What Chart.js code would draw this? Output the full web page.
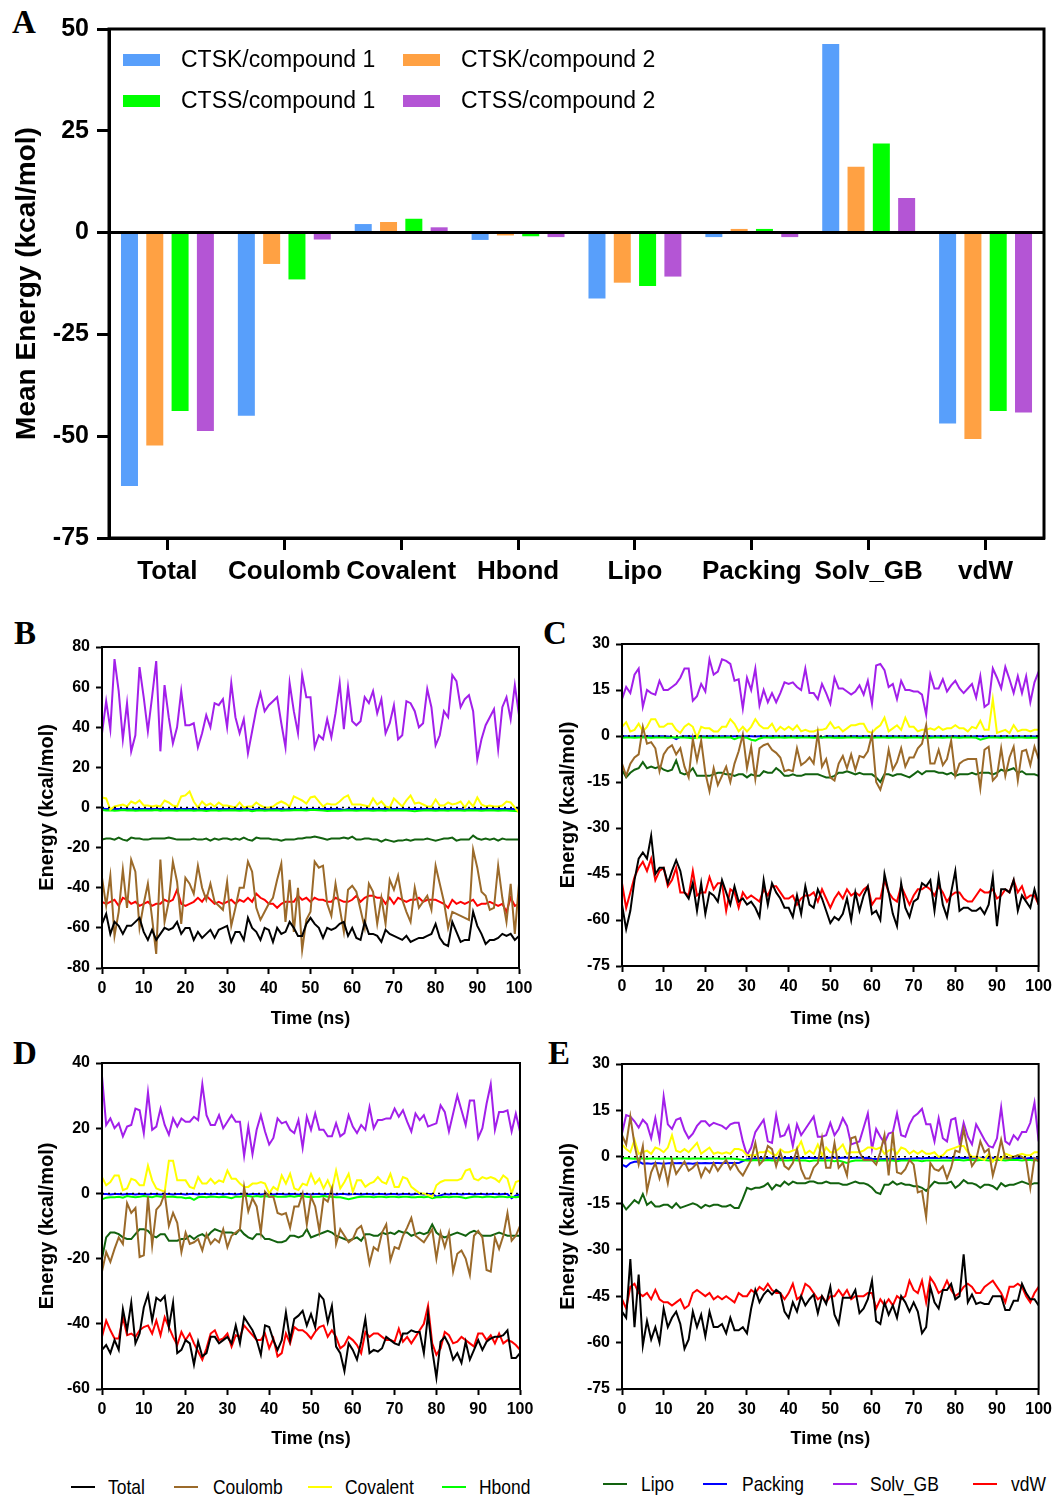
<!DOCTYPE html>
<html>
<head>
<meta charset="utf-8">
<script src="https://cdn.jsdelivr.net/npm/chart.js@4.4.1/dist/chart.umd.min.js"></script>
<style>
  body { margin: 0; background: #fff; }
  #page { position: relative; width: 1057px; height: 1497px; background: #fff; }
  #page canvas { position: absolute; }
  .panel-letter {
    position: absolute;
    font-family: 'Liberation Serif', 'Times New Roman', serif;
    font-weight: bold;
    font-size: 33px;
    line-height: 1;
    color: #000;
  }
  .key {
    position: absolute;
    font-family: 'Liberation Sans', Arial, sans-serif;
    font-size: 21px;
    line-height: 24px;
    color: #000;
    white-space: nowrap;
    transform: scaleX(0.83);
    transform-origin: left center;
  }
  .key-line { position: absolute; height: 2px; width: 24px; }
</style>
</head>
<body>
<div id="page">
  <div class="panel-letter" style="left:12px; top:6px">A</div>
  <div class="panel-letter" style="left:14px; top:617px">B</div>
  <div class="panel-letter" style="left:543px; top:617px">C</div>
  <div class="panel-letter" style="left:13px; top:1037px">D</div>
  <div class="panel-letter" style="left:548px; top:1037px">E</div>

  <canvas id="chartA" width="1057" height="600" style="left:0; top:0"></canvas>
  <canvas id="chartB" width="540" height="440" style="left:0; top:600px"></canvas>
  <canvas id="chartC" width="517" height="440" style="left:540px; top:600px"></canvas>
  <canvas id="chartD" width="540" height="430" style="left:0; top:1030px"></canvas>
  <canvas id="chartE" width="517" height="430" style="left:540px; top:1030px"></canvas>

  <div id="keys"></div>
</div>

<script>
// ---- Panel A: mean energy terms ----
const categories = ['Total', 'Coulomb', 'Covalent', 'Hbond', 'Lipo', 'Packing', 'Solv_GB', 'vdW'];
const ctskCompound1 = [-62.2, -45.0, 2.1, -1.8, -16.2, -1.1, 46.3, -46.9];
const ctskCompound2 = [-52.3, -7.7, 2.6, -0.7, -12.3, 0.9, 16.2, -50.7];
const ctssCompound1 = [-43.8, -11.5, 3.4, -0.9, -13.1, 0.9, 21.9, -43.8];
const ctssCompound2 = [-48.7, -1.7, 1.3, -1.1, -10.8, -1.1, 8.5, -44.2];

// ---- Panels B-E: energy terms over the trajectory ----
const seriesNames = ['Total', 'Coulomb', 'Covalent', 'Hbond', 'Lipo', 'Packing', 'Solv_GB', 'vdW'];
const timeNs = Array.from({ length: 101 }, (_, i) => i);

// B
const bTotal = [
  -58,-53,-63,-57,-59,-63,-59,-59,-57,-55,
  -62,-66,-61,-66,-63,-60,-61,-60,-57,-63,
  -60,-60,-66,-62,-65,-63,-61,-65,-61,-60,
  -59,-67,-62,-62,-66,-55,-60,-62,-66,-60,
  -61,-67,-60,-63,-62,-57,-60,-64,-64,-58,
  -55,-58,-60,-65,-60,-61,-60,-58,-57,-64,
  -60,-65,-66,-57,-63,-63,-64,-67,-61,-63,
  -64,-65,-66,-64,-67,-66,-65,-65,-64,-63,
  -58,-65,-68,-69,-57,-62,-67,-66,-66,-52,
  -59,-63,-68,-66,-66,-65,-63,-64,-63,-66,
  -64];
const bCoulomb = [
  -35,-49,-34,-64,-52,-31,-50,-26,-32,-60,
  -48,-38,-55,-73,-26,-57,-47,-27,-37,-58,
  -35,-38,-43,-29,-40,-46,-38,-47,-49,-51,
  -37,-59,-50,-40,-40,-27,-32,-50,-56,-52,
  -48,-45,-36,-28,-57,-36,-62,-40,-71,-56,
  -52,-27,-30,-29,-48,-54,-38,-50,-62,-41,
  -39,-42,-51,-60,-38,-42,-58,-45,-58,-36,
  -41,-34,-46,-52,-57,-40,-50,-47,-44,-51,
  -29,-38,-47,-60,-52,-53,-54,-55,-56,-21,
  -30,-42,-44,-51,-50,-29,-45,-57,-38,-63,
  -38];
const bCovalent = [
  5,4.5,-1,0.5,1,1.5,0.5,3,2,3.5,
  1,1,0.5,1,0.5,3.5,2.5,1,0.5,5.5,
  6,8,3,0,3,1,2,0.5,2.5,1,
  1,0.5,0,2.5,0,0.5,0.5,2.5,1,0,
  0,0.5,2,3,2,0.5,5.5,4.5,3.5,2,
  5,5.5,3,0.5,2,1.5,1.5,3,5,6,
  1.5,1.5,1.5,1,0.5,4.5,1.5,3,0.5,0,
  4.5,2.5,0.5,3.5,6,2,2.5,1.5,0.5,0.5,
  4,1,1,2.5,1.5,2,3,0,3,0.5,
  5,1.5,0.5,1,0.5,0.5,1,3,2.5,0,
  -2.5];
const bHbond = [
  -1.2,-1.5,-1.4,-1.6,-1.5,-1.3,-1.5,-1.4,-1.6,-1.5,
  -1.4,-1.5,-1.5,-1.3,-1.6,-1.4,-1.5,-1.5,-1.6,-1.4,
  -1.5,-1.4,-1.6,-1.5,-1.5,-1.8,-1.5,-1.4,-1.6,-1.5,
  -1.5,-1.4,-1.5,-1.6,-1.5,-1.4,-1.9,-1.5,-1.4,-1.6,
  -1.5,-1.5,-1.4,-1.6,-1.5,-1.5,-1.4,-1.3,-1.4,-1.5,
  -1.3,-1.2,-1.4,-1.5,-1.7,-1.6,-1.5,-1.6,-1.5,-1.4,
  -1.5,-1.6,-1.5,-1.4,-1.5,-1.6,-1.5,-1.5,-1.6,-1.4,
  -1.5,-1.4,-1.5,-1.5,-1.6,-1.9,-1.6,-1.5,-1.4,-1.5,
  -1.6,-1.5,-1.5,-1.6,-1.4,-1.5,-1.5,-1.6,-1.4,-1.5,
  -1.5,-1.6,-1.5,-1.4,-1.5,-1.6,-1.5,-1.5,-1.6,-1.8,
  -1.9];
const bLipo = [
  -16,-15.5,-15.5,-16,-15,-16,-16.5,-15,-15.5,-15.5,
  -16,-16,-15.5,-15.5,-15.5,-15.5,-15,-15.5,-16,-16,
  -16,-16,-15.5,-16,-16,-15.5,-16.5,-15.5,-16,-15.5,
  -15.5,-16,-15.5,-16,-15,-16,-16.5,-15,-15.5,-15.5,
  -15.5,-16,-16,-16.5,-16,-16,-16,-15.5,-15.5,-15,
  -15,-14.5,-15,-15.5,-16,-15.5,-15.5,-15.5,-15,-15.5,
  -14.5,-16,-16,-15.5,-15.5,-16,-16,-17,-16,-16.5,
  -17,-16.5,-16.5,-16,-16.5,-16,-16,-16,-15.5,-16,
  -16.5,-16,-15.5,-15.5,-15,-16.5,-16,-16,-16,-14,
  -15.5,-16,-15.5,-16,-15.5,-16.5,-15.5,-16,-16,-16,
  -16];
const bPacking = [
  -0.6,-0.8,-0.7,-0.8,-0.7,-0.8,-0.7,-0.9,-0.8,-0.7,
  -0.8,-0.7,-0.8,-0.7,-0.8,-0.7,-0.8,-0.7,-0.8,-0.8,
  -0.7,-0.8,-0.7,-0.8,-0.8,-0.7,-0.8,-0.7,-0.8,-0.7,
  -0.8,-0.7,-0.8,-0.8,-0.7,-0.8,-1.2,-0.8,-0.7,-0.8,
  -0.7,-0.8,-0.8,-0.7,-1.0,-0.8,-0.7,-0.8,-0.7,-0.8,
  -0.8,-0.7,-0.8,-0.7,-0.8,-0.8,-0.7,-0.8,-1.2,-0.8,
  -0.7,-0.8,-0.7,-0.8,-0.8,-0.7,-0.8,-0.7,-0.8,-0.7,
  -0.8,-0.8,-0.7,-0.8,-0.7,-0.8,-0.7,-0.8,-0.8,-0.7,
  -0.8,-0.7,-0.8,-0.7,-0.8,-0.8,-0.7,-1.0,-0.8,-0.7,
  -0.8,-0.7,-0.8,-0.8,-0.7,-0.8,-0.7,-0.8,-0.8,-0.7,
  -0.8];
const bSolvGB = [
  37,53,39,74,58,34,52,28,36,70,
  55,38,55,73,28,61,45,32,40,58,
  41,41,42,30,37,46,40,52,51,54,
  40,62,45,37,44,27,38,49,57,48,
  51,53,55,42,30,62,48,37,66,55,
  55,30,36,34,44,35,47,62,39,60,
  43,41,43,55,52,58,47,54,37,42,
  51,34,36,53,52,48,40,42,59,50,
  31,36,48,45,66,63,50,54,56,48,
  24,34,41,45,49,29,50,55,44,61,
  46];
const bVdw = [
  -47,-48,-47,-46,-49,-45,-46,-48,-47,-49,
  -48,-47,-49,-48,-48,-46,-47,-46,-41,-48,
  -49,-48,-47,-45,-47,-44,-46,-48,-47,-48,
  -47,-46,-48,-46,-47,-45,-47,-43,-45,-46,
  -48,-48,-50,-48,-47,-47,-47,-44,-46,-45,
  -47,-45,-46,-46,-47,-47,-45,-46,-47,-47,
  -46,-44,-47,-45,-44,-44,-45,-45,-48,-45,
  -48,-45,-46,-47,-46,-46,-45,-47,-46,-46,
  -46,-47,-48,-50,-46,-48,-47,-48,-47,-46,
  -49,-48,-48,-47,-48,-49,-48,-52,-45,-49,
  -48];

// C
const cTotal = [
  -55,-63,-57,-47,-40,-38,-40,-32.5,-45,-43,
  -43,-48,-44,-40.5,-44,-51,-53,-48,-57,-48,
  -58,-51,-52,-54,-47,-51,-55,-49,-54,-53,
  -55,-54,-56,-59,-47,-55,-48,-51,-53,-56,
  -56,-59,-52,-58,-49,-55,-56,-50,-53,-57,
  -61,-59,-60,-58,-53,-60,-51,-57,-52,-49,
  -58,-57,-60,-45,-51,-58,-62,-48,-56,-59,
  -54,-53,-48,-49,-47,-57,-46,-55,-59,-51,
  -44,-57,-56,-56,-57,-57,-56,-58,-55,-46,
  -62,-50,-50,-51,-47,-57,-52,-54,-56,-50,
  -55];
const cCoulomb = [
  -9,-13,-9,-7,-6,3,-2.5,-2,-4,-11.5,
  -6,-4,-3,-6,-4,-10,-13.5,-1,-8,-1.5,
  -12,-18,-10.5,-16,-13,-10,-15,-9,-5,0.5,
  -10.5,-3.5,-14,-4,-3,-2.5,-4.5,-5.5,-7,-11.5,
  -11,-11.5,-4,-9.5,-8.5,-7,-9,1,-10,-7.5,
  -13.5,-14.5,-9,-6.5,-10.5,-6,-11,-6.5,-7,-5,
  0.5,-15,-17.5,-13,-4.5,-11,-8.5,-4,-10,-7,
  -7,-4,-2.5,3.5,-9,-9,-4.5,-9.5,-7.5,-1.5,
  -13,-9,-8,-7.5,-7.5,-7.5,-17,-4.5,-3.5,-14.5,
  -13,-4,-13,-7,-3.5,-14.5,-5,-4.5,-9.5,-3.5,
  -7.5];
const cCovalent = [
  3,4.5,1.5,2,4,1.5,3,5.5,5.5,3,
  3,4,4,2,1,3,4,3,-0.5,3,
  2.5,2.5,1.5,1.5,3,3,5.5,4,1.5,3,
  1.5,3,5.5,3.5,2.5,2.5,4,1.5,3,2,
  3,2,3.5,1.5,2,1.5,1.5,2,2,2.5,
  4.5,2.5,3,1.5,2.5,3.5,3.5,4,4,1.5,
  1,2.5,3.5,6,1.5,2.5,3.5,2,6,3,
  3,1.5,2,2,2.5,2,3,2,2.5,2.5,
  3.5,2.5,2.5,1.5,3,2.5,5,2,2,12,
  1,1.5,2,1,3.5,1.5,2,2,1.5,2,
  2];
const cHbond = [
  -0.6,-0.5,-0.5,-0.6,-0.5,-0.4,-0.5,-0.6,-0.5,-0.5,
  -0.5,-0.6,-0.5,-0.4,-0.5,-0.5,-0.6,-0.8,-0.5,-0.5,
  -0.5,-0.6,-0.5,-0.5,-0.5,-0.5,-0.4,-1.0,-0.5,-0.5,
  -0.6,-1.2,-1.5,-0.8,-0.5,-0.5,-0.6,-0.5,-0.5,-0.6,
  -0.5,-0.5,-0.6,-0.5,-0.5,-0.5,-0.6,-0.5,-0.5,-0.5,
  -0.5,-0.6,-0.5,-0.6,-0.5,-0.5,-0.5,-0.6,-0.5,-0.5,
  -0.6,-0.5,-0.5,-0.5,-0.6,-0.5,-0.5,-0.5,-0.6,-0.5,
  -0.5,-0.5,-0.6,-0.5,-0.6,-0.5,-0.5,-0.6,-0.5,-0.5,
  -0.5,-0.6,-0.5,-0.5,-0.5,-0.6,-1.2,-0.8,-0.5,-0.5,
  -0.5,-0.6,-0.5,-0.5,-0.6,-0.5,-0.5,-0.6,-0.5,-0.6,
  -0.5];
const cLipo = [
  -11,-13.5,-12,-11,-10.5,-8.5,-10.5,-10,-10.5,-10,
  -11,-11.5,-11,-8,-12,-12.5,-12,-10.5,-13,-13,
  -13,-13,-12.5,-12,-12,-12.5,-12.5,-13,-12.5,-12.5,
  -13.5,-12.5,-13,-13,-11.5,-12,-12,-10.5,-11.5,-13,
  -13,-12.5,-13,-13,-12.5,-12.5,-12.5,-12.5,-13,-13.5,
  -13.5,-13,-12,-12,-11.5,-12,-12.5,-12,-12.5,-12.5,
  -12.5,-13.5,-15,-12.5,-12.5,-13,-12.5,-12.5,-13,-13.5,
  -12.5,-11.5,-12.5,-11.5,-11.5,-11.5,-12,-12,-12.5,-12,
  -13,-12.5,-12.5,-12.5,-12,-12.5,-12,-12,-12,-12.5,
  -12,-11,-11.5,-11,-10.5,-12,-11.5,-12.5,-12.5,-12.5,
  -13];
const cPacking = [
  -0.1,-0.1,-0.2,-0.1,-0.1,-0.2,-0.1,-0.1,-0.2,-0.1,
  -0.1,-0.2,-0.3,-1.0,-0.2,-0.1,-0.1,-0.2,-0.1,-0.1,
  -0.2,-0.1,-0.1,-0.2,-0.1,-0.1,-0.2,-0.1,-0.1,-0.2,
  -0.1,-0.1,-0.2,-0.1,-0.1,-0.2,-0.1,-0.1,-0.2,-0.1,
  -0.1,-0.2,-0.1,-0.1,-0.2,-0.1,-0.1,-0.2,-0.5,-0.1,
  -0.1,-0.2,-0.1,-0.1,-0.2,-0.1,-0.1,-0.2,-0.1,-0.1,
  -0.2,-0.1,-0.1,-0.2,-0.1,-0.1,-0.2,-0.1,-0.1,-0.2,
  -0.1,-0.1,-0.2,-0.1,-0.1,-0.2,-0.1,-0.1,-0.2,-0.1,
  -0.1,-0.2,-0.1,-0.1,-0.2,-0.1,-0.1,-0.2,-0.1,-0.1,
  -0.2,-0.1,-0.1,-0.2,-0.1,-0.1,-0.2,-0.1,-0.1,-0.2,
  -0.1];
const cSolvGB = [
  12,16,14,20,22,9.5,15,14,13.5,18,
  15,15,16,17,19,22,22,11.5,13,17,
  14.5,25,20,21,25,24.5,23.5,18,18.5,9,
  19,15,22,10,15,11,14,11,14,17.5,
  17,17.5,16,15,22,14,14,12,17,14,
  10.5,19,15.5,15.5,14.5,13.5,14.5,16.5,13.5,18,
  10.5,23,23.5,21.5,16,17,12,18,15,15,
  14.5,14.5,13.5,7,20,15.5,15.5,18.5,14.5,16.5,
  18,15.5,14,15.5,17,12.5,19.5,9.5,10.5,22,
  19,15.5,22.5,18.5,14,19.5,14,19.5,11,17.5,
  21];
const cVdw = [
  -48,-56,-51,-46,-43,-41,-44,-40,-47,-44,
  -43,-49,-47,-43,-51,-51,-52,-44,-52,-51,
  -51,-46,-50,-48,-48,-57,-50,-51,-56,-51,
  -53,-52,-53,-54,-50,-52,-49,-49,-51,-53,
  -53,-52,-55,-53,-52,-52,-51,-54,-50,-53,
  -56,-53,-51,-53,-50,-52,-51,-52,-50,-49,
  -55,-53,-53,-47,-51,-53,-54,-49,-52,-55,
  -52,-50,-50,-49,-50,-52,-49,-51,-54,-52,
  -51,-51,-53,-54,-54,-52,-50,-51,-51,-50,
  -53,-52,-50,-51,-47,-51,-49,-53,-52,-52,
  -55];

// D
const dTotal = [
  -48,-46.5,-49,-45,-48,-35.5,-42,-33.5,-46,-43,
  -35,-31,-39,-32,-33,-31.5,-41,-33.5,-49,-48,
  -45,-46,-52.5,-45.5,-50,-49,-44,-44,-46,-45,
  -44,-46,-40.5,-46,-38,-40,-42,-45,-49.5,-40.5,
  -41,-45,-48,-45,-36.5,-45,-38.5,-37.5,-36,-40.5,
  -37,-41,-31,-32.5,-39.5,-34.5,-47,-49,-54.5,-46,
  -48,-51,-45.5,-38.5,-49,-48,-48.5,-47.5,-44,-45,
  -46,-46.5,-43,-43,-42,-42.5,-42.5,-49,-37,-48,
  -56.5,-45.5,-44,-46.5,-51,-49,-52,-45.5,-51,-48,
  -45,-48,-45.5,-44.5,-44,-44,-43.5,-42,-50.5,-50.5,
  -49];
const dCoulomb = [
  -24,-18,-21,-17,-13.5,-15.5,-3,-6,-4.5,-19.5,
  -19,-1,-16,-5,-3.5,0,-10,-6,-9,-18,
  -12,-15.5,-15,-14,-17.5,-12.5,-15.5,-14,-15,-11,
  -16.5,-13,-12,-11,2,-5.5,-1.5,-4,-12,0.5,
  -1,-1,-6,-6.5,-6,-10.5,-4,-4,0,-9.5,
  -1,-4,-11.5,-1.5,-2.5,1.5,-15.5,-11,-13,-15,
  -14,-11,-10,-14,-21.5,-16.5,-17.5,-12,-9.5,-20.5,
  -16.5,-17,-13,-10.5,-7.5,-13,-14,-15,-13,-11,
  -20,-12,-16.5,-12,-24,-18.5,-17.5,-20,-25,-13,
  -11.5,-13.5,-23.5,-24,-13.5,-17,-13,-6,-14.5,-13,
  -10];
const dCovalent = [
  5,2.5,3.5,5.5,5.5,1,1.5,4.5,4,2.5,
  2.5,8.5,4,1.5,1,0.5,10,10,4,4,
  4,2,1.5,5,3,3,4.5,3,4,3.5,
  7,4.5,4.5,3,2,2,3,3,3.5,3,
  0,2,1,5.5,3,6,1.5,1,3,2.5,
  6,3,4.5,1.5,4,1,7,1.5,3.5,6,
  0.5,4,4,2,3,3.5,5,3.5,3,6,
  2,2,5,4.5,2,1,0,0,-0.5,-1,
  2.5,3.5,4,4,4,4,4.5,7,7.5,4.5,
  4,5,4.5,5,4.5,3.5,5.5,4.5,0,3.5,
  4];
const dHbond = [
  -1.8,-1.3,-1.2,-1.2,-1.0,-1.3,-0.8,-1.0,-1.2,-1.0,
  -0.8,-1.0,-1.2,-0.8,-1.0,-1.0,-1.0,-1.0,-1.2,-1.2,
  -1.5,-1.3,-2.0,-1.2,-1.0,-1.2,-1.0,-1.0,-1.2,-1.0,
  -1.2,-1.5,-1.0,-1.0,-0.8,-0.8,-1.0,-0.8,-1.0,-0.8,
  -1.0,-0.8,-1.0,-1.0,-1.0,-0.8,-1.0,-0.8,-0.8,-1.0,
  -1.2,-1.0,-1.0,-0.8,-1.0,-1.0,-1.2,-1.2,-1.5,-1.8,
  -1.5,-1.2,-1.0,-1.0,-1.0,-1.2,-1.0,-1.0,-1.2,-1.0,
  -1.0,-1.2,-1.0,-1.0,-1.2,-1.2,-1.0,-1.2,-1.0,-1.5,
  -1.2,-1.2,-1.0,-1.2,-1.0,-1.0,-1.2,-1.5,-1.2,-1.0,
  -1.0,-1.2,-1.0,-1.0,-1.2,-1.0,-1.0,-1.2,-1.0,-1.2,
  -1.0];
const dLipo = [
  -20,-13.5,-12,-12,-12.5,-13.5,-14,-14,-12.5,-11,
  -11,-11.5,-13,-13.5,-12.5,-12.5,-14.5,-14.5,-14.5,-14,
  -14,-13,-14,-13,-12.5,-13.5,-12,-11,-11.5,-12,
  -12,-12,-12.5,-11,-12.5,-13.5,-14,-12.5,-12.5,-14,
  -14,-14.5,-15,-15,-14.5,-13,-13,-13.5,-13,-11,
  -13.5,-13,-12.5,-12,-11.5,-12,-13,-13.5,-14,-14.5,
  -14,-13.5,-14.5,-12.5,-12.5,-13,-13,-12,-12.5,-12,
  -12.5,-11.5,-12,-12,-13,-12.5,-12,-12.5,-12,-9.5,
  -12,-13,-13.5,-13,-12.5,-12,-12.5,-13,-12,-11.5,
  -12,-13,-13,-13,-12.5,-12,-12.5,-13,-13,-13,
  -13];
const dPacking = [
  -0.2,-0.2,-0.3,-0.2,-0.2,-0.3,-0.2,-0.2,-0.3,-0.2,
  -0.2,-0.3,-0.2,-0.2,-0.3,-0.2,-0.2,-0.3,-0.2,-0.2,
  -0.3,-0.2,-0.2,-0.3,-0.2,-0.2,-0.3,-0.2,-0.2,-0.3,
  -0.2,-0.2,-0.3,-0.2,-0.2,-0.3,-0.2,-0.2,-0.3,-0.2,
  -0.2,-0.3,-0.2,-0.2,-0.3,-0.2,-0.2,-0.3,-0.2,-0.2,
  -0.3,-0.2,-0.2,-0.3,-0.2,-0.2,-0.3,-0.2,-0.2,-0.3,
  -0.2,-0.2,-0.3,-0.2,-0.2,-0.3,-0.2,-0.2,-0.3,-0.2,
  -0.2,-0.3,-0.2,-0.2,-0.3,-0.2,-0.2,-0.3,-0.2,-0.2,
  -1.0,-0.6,-0.2,-0.3,-0.2,-0.2,-0.3,-0.2,-0.2,-0.3,
  -0.2,-0.2,-0.3,-0.2,-0.2,-0.3,-0.2,-0.2,-1.5,-0.6,
  -0.3];
const dSolvGB = [
  36,21,23,20,21.5,17.5,20.5,21,26,25.5,
  18.5,31,19.5,20.5,26,21,18,23,20.5,23,
  22,22,23.5,22.5,33.5,24,21,21,24,20,
  22,24,22,22,11.5,20.5,12,19.5,24,19,
  15,17,23,21.5,22,19.5,18.5,22.5,14,23.5,
  19.5,24.5,19.5,19.5,17.5,17.5,21.5,17.5,18.5,24,
  20.5,18.5,21,19.5,26.5,20,22.5,22.5,23,23,
  26,23.5,25.5,22,19,24.5,22.5,24,20.5,21,
  21.5,27,25,19,24.5,30,25.5,21,28.5,28.5,
  17,20,27.5,33.5,19.5,25,25,25.5,19,24.5,
  19];
const dVdw = [
  -44,-39,-42,-44.5,-44.5,-38,-43.5,-43,-44,-42,
  -41,-40.5,-43,-39,-43.5,-38,-41,-44,-46.5,-42.5,
  -45,-43,-46,-48.5,-51,-47.5,-43,-42,-45,-44.5,
  -43,-47,-43.5,-44,-40.5,-42,-43.5,-45,-45,-43,
  -47.5,-44.5,-50,-49,-43,-46,-41,-42,-42,-43,
  -44.5,-42.5,-41,-40.5,-44,-42,-44,-47.5,-46.5,-44,
  -45,-46.5,-49,-42.5,-44,-43,-43,-44,-45,-45,
  -45.5,-41.5,-45.5,-44,-46,-44,-42,-40,-34.5,-46,
  -49.5,-47.5,-42.5,-43.5,-46,-45.5,-44,-45,-46,-47,
  -43,-43,-45,-43.5,-46,-43,-46,-45,-45.5,-46.5,
  -48];

// E
const eTotal = [
  -50,-52,-33,-55,-38,-61,-53,-59,-55,-60,
  -49,-55,-52,-50,-54,-62,-59,-50,-55,-51,
  -58,-50,-55,-55,-54,-57,-52,-56,-56,-55,
  -57,-49,-43,-47,-44.5,-43,-44.5,-43,-44,-50,
  -52,-47,-50,-45,-48,-46,-44.5,-50.5,-45,-47.5,
  -42,-51,-54,-45.5,-45.5,-45.5,-43,-50.5,-49,-46,
  -40,-53,-54,-47,-51,-48,-52,-45,-47,-50,
  -47,-50,-57,-55,-42,-47,-49,-43,-43,-41,
  -46,-45,-31.5,-47,-44.5,-47.5,-47,-47.5,-47.5,-45,
  -45,-45,-49.5,-49.5,-46.5,-46.5,-41,-44,-46,-46,
  -48];
const eCoulomb = [
  7,4,13,4,-2.5,3.5,-11,-5,-2,-7,
  -2,-8.5,-1,-5.5,-3.5,-1.5,-4.5,-3.5,-2,-6.5,
  -3.5,-5,-2,-4.5,-2.5,-1,-4,-2,-4.5,-6,
  -3.5,-1,4.5,-2.5,-1,3.5,2.5,-3,1.5,-3,
  -4,-2,2.5,-4,-7,-7,-3.5,-2,6,-3.5,
  -3.5,4.5,-3.5,-2,-6,6,6.5,1.5,-1,-1,
  -1,-2.5,1.5,7,-6,8,-5,-5.5,-4,-1,
  -2.5,-11.5,-11,-19.5,-2,-4,-4.5,-3,-7,-3.5,
  2,1.5,9,2.5,-3,-1,5,1.5,2.5,-6,
  -1,5.5,-0.5,-0.5,0,0.5,0,-1,-10,-0.5,
  -1.5];
const eCovalent = [
  4,2.5,1.5,5.5,1,1.5,2,1,3,2.5,
  1.5,3,7,2,1.5,2.5,1.5,3,4.5,1,
  2,3,1,1.5,1,1.5,1,2.5,2.5,2,
  0.5,0.5,0.5,1.5,1.5,2,1,0.5,2.5,1.5,
  1.5,2,2.5,5,1,2,1,4,0.5,3,
  1.5,1.5,2.5,4,1,1.5,1.5,1.5,2,3,
  3,2.5,3,1,2,2.5,1,3,2.5,1,
  2,1,2,1,1,1.5,0,0.5,2,2.5,
  3,3.5,3.5,1.5,0,0,-0.5,-1,1,-1.5,
  0,-1,1,0.5,0,0.5,1,0.5,0.5,1.5,
  1.5];
const eHbond = [
  -0.5,-0.4,-0.5,-0.6,-0.5,-0.5,-0.6,-0.5,-0.5,-0.6,
  -0.5,-0.5,-0.6,-0.5,-0.5,-0.5,-0.6,-0.5,-0.5,-0.5,
  -0.6,-0.5,-0.5,-0.5,-0.6,-0.5,-0.5,-0.6,-0.8,-1.0,
  -1.2,-1.2,-1.0,-1.2,-1.2,-1.0,-1.2,-1.2,-1.0,-1.2,
  -1.2,-1.0,-1.2,-1.2,-1.2,-1.4,-1.2,-1.2,-1.2,-1.2,
  -1.2,-1.4,-1.2,-1.6,-2.0,-1.4,-1.2,-1.2,-1.2,-1.2,
  -1.2,-1.4,-1.2,-1.2,-1.2,-1.2,-1.4,-1.2,-1.2,-1.2,
  -1.2,-1.2,-1.4,-1.2,-1.2,-1.2,-1.2,-1.2,-1.2,-1.2,
  -1.0,-1.0,-1.2,-1.0,-1.0,-1.2,-1.0,-1.0,-1.2,-1.0,
  -1.0,-1.0,-1.2,-1.0,-1.0,-1.0,-1.2,-1.0,-1.0,-1.2,
  -1.0];
const eLipo = [
  -15,-17,-15.5,-14,-15,-12,-15.5,-14.5,-16,-16,
  -15.5,-15.5,-16.5,-15,-16.5,-16,-15.5,-15,-15.5,-16.5,
  -15.5,-16,-15.5,-15.5,-16,-16,-15.5,-16.5,-16.5,-13.5,
  -10,-10.5,-10,-10,-9.5,-8.5,-10.5,-9,-9.5,-8,
  -9,-8,-8.5,-8.5,-8.5,-8,-8,-8.5,-8.5,-8,
  -8.5,-8.5,-8.5,-9,-9,-8.5,-8,-8.5,-8.5,-9,
  -10,-11.5,-12,-9,-9,-8,-9,-8.5,-9,-9,
  -9.5,-9.5,-10,-11,-9.5,-8,-8.5,-8.5,-8.5,-8,
  -10,-9,-7.5,-8.5,-8.5,-9,-10,-9,-9,-9.5,
  -10.5,-8.5,-9.5,-9,-9,-8.5,-8,-8.5,-9,-8.5,
  -8.5];
const ePacking = [
  -2.5,-3.2,-2.0,-1.6,-1.5,-2.2,-2.1,-2.2,-2.0,-2.1,
  -2.2,-2.1,-2.0,-2.1,-2.0,-2.2,-2.1,-2.2,-2.0,-2.1,
  -2.0,-2.1,-2.0,-2.0,-2.1,-1.9,-2.0,-2.0,-2.0,-1.4,
  -0.8,-0.6,-0.5,-0.4,-0.5,-0.4,-0.5,-0.4,-0.5,-0.4,
  -0.4,-0.4,-0.5,-0.4,-0.4,-0.3,-0.4,-0.4,-0.5,-0.4,
  -0.3,-0.3,-0.4,-0.3,-0.3,-0.4,-0.3,-0.3,-0.4,-0.3,
  -0.6,-0.7,-0.8,-0.7,-0.6,-0.7,-0.8,-0.7,-0.7,-0.6,
  -0.5,-0.4,-0.5,-0.4,-0.4,-0.3,-0.4,-0.3,-0.3,-0.4,
  -0.3,-0.3,-0.4,-0.3,-0.3,-0.4,-0.3,-0.3,-0.4,-0.3,
  -0.4,-0.5,-0.4,-0.4,-0.5,-0.4,-0.4,-0.5,-0.4,-0.5,
  -0.5];
const eSolvGB = [
  7.5,13.5,13,11.5,9.5,12,10.5,6,12.5,5.5,
  19.5,10.5,9,12,12.5,8.5,6,7.5,10,11.5,
  11.5,10,11,10.5,10,9,10.5,11,11,5,
  0.5,3,8,10,12,5,4.5,13.5,6.5,7,
  10,3.5,10.5,7,9,11,13,6.5,6.5,7,
  11,7,9,12.5,10,4,4.5,5,9.5,14,
  2.5,9,6.5,4.5,7.5,8,14,7,6.5,10.5,
  13,14,15.5,10.5,10.5,5,12.5,6,5,12,
  12.5,4.5,11,6.5,4,10.5,8,5.5,3.5,3,
  6,16,5,4,7,5.5,8,8,11,17.5,
  5];
const eVdw = [
  -46,-49,-42,-41,-44,-45,-44,-46,-43,-46,
  -47,-47,-48,-47,-46,-49,-48,-44,-43,-44,
  -45,-44,-46,-45,-46,-45,-46,-47,-44,-45,
  -45,-43,-44,-42,-43,-41,-43,-44,-44,-46,
  -44,-41,-46,-45,-41,-42,-44,-46,-45,-47,
  -45,-45,-43,-45,-43,-46,-45,-45,-45,-44,
  -44,-49,-46,-48,-46,-48,-45,-46,-45,-40,
  -43,-44,-40,-47,-39,-41,-44,-43,-40,-43,
  -45,-44,-42,-41,-42,-44,-44,-42,-41,-40,
  -42,-44,-47,-42,-42,-41,-42,-45,-47,-44,
  -42];

const barColors = ['#589ffb', '#ffa143', '#00ff00', '#b455d5'];
const lineColors = ['#000000', '#9b6a2a', '#ffff00', '#00ff00', '#12620f', '#0000ff', '#a21fea', '#ff0000'];

Chart.defaults.font.family = "'Liberation Sans', Arial, Helvetica, sans-serif";
Chart.defaults.color = '#000';

// Box around the plotting area, optional zero line
const framePlugin = {
  id: 'frame',
  afterDatasetsDraw(chart, args, opts) {
    const { ctx, chartArea: a, scales } = chart;
    ctx.save();
    if (opts.zero) {
      const y0 = scales.y.getPixelForValue(0);
      ctx.beginPath();
      ctx.strokeStyle = '#000';
      ctx.lineWidth = opts.zero === 'dotted' ? 1.5 : opts.width;
      ctx.setLineDash(opts.zero === 'dotted' ? [2, 4] : []);
      ctx.moveTo(a.left, y0);
      ctx.lineTo(a.right, y0);
      ctx.stroke();
      ctx.setLineDash([]);
    }
    ctx.strokeStyle = '#000';
    ctx.lineWidth = opts.width;
    ctx.strokeRect(a.left, a.top, a.right - a.left, a.bottom - a.top);
    ctx.restore();
  }
};

// Two-column legend drawn inside the bar chart
const insideLegend = {
  id: 'insideLegend',
  afterDraw(chart) {
    const { ctx, chartArea: a } = chart;
    ctx.save();
    ctx.font = "23px 'Liberation Sans', Arial, sans-serif";
    ctx.textBaseline = 'middle';
    ctx.fillStyle = '#000';
    chart.data.datasets.forEach((ds, i) => {
      const col = i % 2, row = Math.floor(i / 2);
      const x = a.left + 14 + col * 280;
      const y = a.top + 31 + row * 41;
      ctx.fillStyle = ds.backgroundColor;
      ctx.fillRect(x, y - 6, 37, 12);
      ctx.fillStyle = '#000';
      ctx.fillText(ds.label, x + 58, y + 1);
    });
    ctx.restore();
  }
};

function drawBarPanel() {
  const groups = [ctskCompound1, ctskCompound2, ctssCompound1, ctssCompound2];
  const labels = ['CTSK/compound 1', 'CTSK/compound 2', 'CTSS/compound 1', 'CTSS/compound 2'];
  new Chart(document.getElementById('chartA'), {
    type: 'bar',
    data: {
      labels: categories,
      datasets: groups.map((vals, i) => ({
        label: labels[i],
        data: vals,
        backgroundColor: barColors[i],
        borderWidth: 0,
        categoryPercentage: 0.866,
        barPercentage: 0.672
      }))
    },
    options: {
      responsive: false,
      animation: false,
      layout: { padding: { top: 29, right: 13, left: 0, bottom: 0 } },
      plugins: {
        legend: { display: false },
        tooltip: { enabled: false },
        frame: { width: 3, zero: 'solid' }
      },
      scales: {
        x: {
          grid: { offset: false, drawOnChartArea: false, tickLength: 12, tickWidth: 3, tickColor: '#000' },
          border: { display: true, width: 3, color: '#000' },
          ticks: { font: { size: 26, weight: 'bold' }, color: '#000', padding: 6, maxRotation: 0, autoSkip: false },
          afterFit(s) { s.height = 62; }
        },
        y: {
          min: -75,
          max: 50,
          ticks: { stepSize: 25, font: { size: 25, weight: 'bold' }, color: '#000', padding: 8 },
          grid: { drawOnChartArea: false, tickLength: 12, tickWidth: 3, tickColor: '#000' },
          border: { display: true, width: 3, color: '#000' },
          title: {
            display: true,
            text: 'Mean Energy (kcal/mol)',
            font: { size: 28, weight: 'bold' },
            color: '#000',
            padding: { top: 10 }
          },
          afterFit(s) { s.width = 109; }
        }
      }
    },
    plugins: [framePlugin, insideLegend]
  });
}

function drawEnergyPanel(id, series, yMin, yMax, yStep, box) {
  const canvas = document.getElementById(id);
  new Chart(canvas, {
    type: 'line',
    data: {
      datasets: series.map((vals, i) => ({
        label: seriesNames[i],
        data: timeNs.map((t, k) => ({ x: t, y: vals[k] })),
        borderColor: lineColors[i],
        borderWidth: 2,
        pointRadius: 0,
        tension: 0,
        fill: false
      }))
    },
    options: {
      responsive: false,
      animation: false,
      layout: { padding: { top: box.top, right: box.right, left: 0, bottom: 0 } },
      plugins: {
        legend: { display: false },
        tooltip: { enabled: false },
        frame: { width: 2, zero: 'dotted' }
      },
      scales: {
        x: {
          type: 'linear',
          min: 0,
          max: 100,
          ticks: { stepSize: 10, font: { size: 16, weight: 'bold' }, color: '#000', padding: 5, maxRotation: 0 },
          grid: { drawOnChartArea: false, tickLength: 6, tickWidth: 2, tickColor: '#000' },
          border: { display: true, width: 2, color: '#000' },
          title: {
            display: true,
            text: 'Time (ns)',
            font: { size: 18, weight: 'bold' },
            color: '#000',
            padding: { top: 0, bottom: 10 }
          },
          afterFit(s) { s.height = box.bottom; }
        },
        y: {
          min: yMin,
          max: yMax,
          ticks: { stepSize: yStep, font: { size: 16, weight: 'bold' }, color: '#000', padding: 6 },
          grid: { drawOnChartArea: false, tickLength: 6, tickWidth: 2, tickColor: '#000' },
          border: { display: true, width: 2, color: '#000' },
          title: {
            display: true,
            text: 'Energy (kcal/mol)',
            font: { size: 20, weight: 'bold' },
            color: '#000',
            padding: { top: box.titlePad }
          },
          afterFit(s) { s.width = box.left; }
        }
      }
    },
    plugins: [framePlugin]
  });
}

function drawKeys() {
  // line start, text start, centre y
  const spots = [[71, 108, 1487], [174, 213, 1487], [308, 345, 1487], [442, 479, 1487],
                 [603, 641, 1484], [703, 742, 1484], [833, 870, 1484], [973, 1011, 1484]];
  const host = document.getElementById('keys');
  seriesNames.forEach((name, i) => {
    const [lx, tx, cy] = spots[i];
    const line = document.createElement('div');
    line.className = 'key-line';
    line.style.left = lx + 'px';
    line.style.top = (cy - 1) + 'px';
    line.style.background = lineColors[i];
    host.appendChild(line);
    const txt = document.createElement('div');
    txt.className = 'key';
    txt.style.left = tx + 'px';
    txt.style.top = (cy - 12) + 'px';
    txt.textContent = name;
    host.appendChild(txt);
  });
}

drawBarPanel();
drawEnergyPanel('chartB', [bTotal, bCoulomb, bCovalent, bHbond, bLipo, bPacking, bSolvGB, bVdw],
  -80, 80, 20, { left: 102, top: 47, right: 21, bottom: 72, titlePad: 35 });
drawEnergyPanel('chartC', [cTotal, cCoulomb, cCovalent, cHbond, cLipo, cPacking, cSolvGB, cVdw],
  -75, 30, 15, { left: 82, top: 44, right: 16, bottom: 74, titlePad: 16 });
drawEnergyPanel('chartD', [dTotal, dCoulomb, dCovalent, dHbond, dLipo, dPacking, dSolvGB, dVdw],
  -60, 40, 20, { left: 102, top: 33, right: 20, bottom: 71, titlePad: 35 });
drawEnergyPanel('chartE', [eTotal, eCoulomb, eCovalent, eHbond, eLipo, ePacking, eSolvGB, eVdw],
  -75, 30, 15, { left: 82, top: 34, right: 16, bottom: 71, titlePad: 16 });
drawKeys();
</script>
</body>
</html>
